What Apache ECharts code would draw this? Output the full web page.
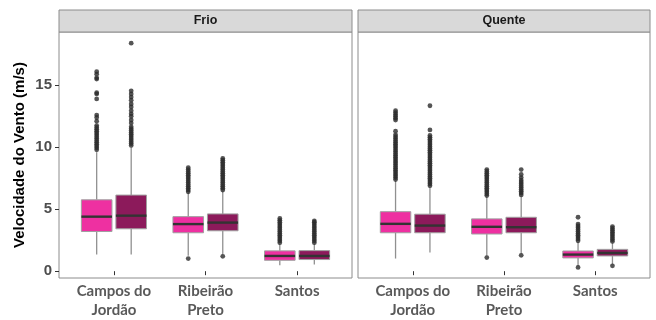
<!DOCTYPE html>
<html>
<head>
<meta charset="utf-8">
<script src="https://cdn.jsdelivr.net/npm/echarts@6/dist/echarts.min.js"></script>
<style>
  html, body { margin: 0; padding: 0; background: #fff; }
  #chart { width: 656px; height: 320px; }
</style>
</head>
<body>
<div id="chart"></div>
<script>
// Cities on the x axis, seasons as facets
const cities = ['Campos do\nJordão', 'Ribeirão\nPreto', 'Santos'];
const seasons = ['Frio', 'Quente'];
const yTicks = [0, 5, 10, 15];

// Box statistics per city: [lower whisker, Q1, median, Q3, upper whisker]
const frioBoxA = [[1.34, 3.2, 4.4, 5.76, 9.6], [1.25, 3.1, 3.8, 4.4, 6.3], [0.48, 0.88, 1.23, 1.64, 2.2]];
const frioBoxB = [[1.34, 3.42, 4.48, 6.14, 10.0], [1.35, 3.26, 3.92, 4.62, 6.45], [0.54, 0.94, 1.23, 1.66, 2.2]];
const quenteBoxA = [[1.02, 3.1, 3.82, 4.8, 7.3], [1.25, 3.0, 3.58, 4.22, 6.0], [0.4, 1.07, 1.34, 1.63, 2.35]];
const quenteBoxB = [[1.5, 3.1, 3.68, 4.6, 6.8], [1.4, 3.1, 3.55, 4.35, 6.05], [0.55, 1.23, 1.47, 1.76, 2.3]];

// Outlying observations per city
const frioOutA = [
  [9.8, 9.95, 10.1, 10.25, 10.4, 10.55, 10.7, 10.85, 11.0, 11.15, 11.3, 11.45, 11.6, 11.75, 12.1, 12.4, 12.6, 13.9, 14.3, 14.4, 15.5, 15.6, 15.9, 16.1],
  [1.02, 6.4, 6.55, 6.7, 6.85, 7.0, 7.15, 7.3, 7.45, 7.6, 7.75, 7.9, 8.05, 8.2, 8.35],
  [2.3, 2.45, 2.6, 2.75, 2.9, 3.05, 3.2, 3.35, 3.5, 3.65, 3.8, 3.95, 4.1, 4.25]
];
const frioOutB = [
  [10.15, 10.3, 10.45, 10.6, 10.75, 10.9, 11.05, 11.2, 11.35, 11.5, 11.65, 11.95, 12.2, 12.5, 12.7, 12.95, 13.25, 13.5, 13.8, 14.05, 14.3, 14.55, 18.4],
  [1.2, 6.55, 6.7, 6.85, 7.0, 7.15, 7.3, 7.45, 7.6, 7.75, 7.9, 8.05, 8.2, 8.35, 8.5, 8.65, 8.8, 8.95, 9.1],
  [2.3, 2.45, 2.6, 2.75, 2.9, 3.05, 3.2, 3.35, 3.5, 3.65, 3.8, 3.95, 4.05]
];
const quenteOutA = [
  [7.4, 7.55, 7.7, 7.85, 8.0, 8.15, 8.3, 8.45, 8.6, 8.75, 8.9, 9.05, 9.2, 9.35, 9.5, 9.65, 9.8, 9.95, 10.1, 10.25, 10.4, 10.55, 10.7, 10.85, 11.0, 11.3, 12.2, 12.35, 12.5, 12.65, 12.8, 12.95],
  [1.1, 6.1, 6.25, 6.4, 6.55, 6.7, 6.85, 7.0, 7.15, 7.3, 7.45, 7.6, 7.75, 7.9, 8.05, 8.2],
  [0.3, 2.45, 2.6, 2.75, 2.9, 3.05, 3.2, 3.35, 3.5, 3.65, 3.8, 4.35]
];
const quenteOutB = [
  [6.9, 7.05, 7.2, 7.35, 7.5, 7.65, 7.8, 7.95, 8.1, 8.25, 8.4, 8.55, 8.7, 8.85, 9.0, 9.15, 9.3, 9.45, 9.6, 9.75, 9.9, 10.05, 10.2, 10.35, 10.5, 10.65, 10.8, 10.95, 11.4, 13.35],
  [1.28, 6.15, 6.3, 6.45, 6.6, 6.75, 6.9, 7.05, 7.2, 7.35, 7.55, 7.8, 8.2],
  [0.43, 2.4, 2.55, 2.7, 2.85, 3.0, 3.15, 3.3, 3.45, 3.6]
];

const PINK = '#EE30A1';
const PLUM = '#8C1A5B';
const BOX_OFFSET = 0.1885;   // dodge offset from the city position (axis units)
const BOX_HALF = 0.167;      // half box width (axis units)
const GREY = '#8c8c8c';

function boxRenderer(offset, fill) {
  return function (params, api) {
    const x = api.value(0) + offset;
    const lo = api.coord([x, api.value(1)]);
    const q1 = api.coord([x, api.value(2)]);
    const md = api.coord([x, api.value(3)]);
    const q3 = api.coord([x, api.value(4)]);
    const hi = api.coord([x, api.value(5)]);
    const left = api.coord([x - BOX_HALF, api.value(3)])[0];
    const right = api.coord([x + BOX_HALF, api.value(3)])[0];
    const whisker = { stroke: '#909090', lineWidth: 1.3 };
    return {
      type: 'group',
      children: [
        { type: 'line', shape: { x1: lo[0], y1: lo[1], x2: q1[0], y2: q1[1] }, style: whisker },
        { type: 'line', shape: { x1: q3[0], y1: q3[1], x2: hi[0], y2: hi[1] }, style: whisker },
        { type: 'rect', shape: { x: left, y: q3[1], width: right - left, height: q1[1] - q3[1] },
          style: { fill: fill, stroke: '#a0a0a0', lineWidth: 1 } },
        { type: 'line', shape: { x1: left, y1: md[1], x2: right, y2: md[1] },
          style: { stroke: '#333333', lineWidth: 2.4 } }
      ]
    };
  };
}

function boxSeries(idx, boxes, offset, fill) {
  return {
    type: 'custom',
    xAxisIndex: idx, yAxisIndex: idx,
    renderItem: boxRenderer(offset, fill),
    encode: { x: 0, y: [1, 2, 3, 4, 5] },
    data: boxes.map((b, i) => [i + 1].concat(b)),
    silent: true, z: 2
  };
}

function outlierSeries(idx, outs, offset) {
  const pts = [];
  outs.forEach((arr, i) => arr.forEach(v => pts.push([i + 1 + offset, v])));
  return {
    type: 'scatter',
    xAxisIndex: idx, yAxisIndex: idx,
    data: pts,
    symbol: 'circle', symbolSize: 4.8,
    itemStyle: { color: '#2b2b2b' },
    silent: true, z: 3
  };
}

const grids = [
  { left: 59, top: 32, width: 293, height: 247 },
  { left: 358, top: 32, width: 292, height: 247 }
];

const chart = echarts.init(document.getElementById('chart'), null, { renderer: 'canvas' });

const xAxes = grids.map((g, i) => ({
  type: 'value', gridIndex: i, min: 0.4, max: 3.6,
  splitLine: { show: false },
  axisLine: { show: false },
  axisTick: { show: true, customValues: [1, 2, 3], length: 4, lineStyle: { color: '#333' } },
  axisLabel: {
    customValues: [1, 2, 3],
    formatter: v => cities[Math.round(v) - 1],
    color: '#595959', fontFamily: 'Lato', fontWeight: 'bold', fontSize: 15,
    lineHeight: 19, margin: 4
  }
}));

const yAxes = grids.map((g, i) => ({
  type: 'value', gridIndex: i, min: -0.55, max: 19.3,
  splitLine: { show: false },
  axisLine: { show: false },
  axisTick: { show: i === 0, customValues: yTicks, length: 4, lineStyle: { color: '#333' } },
  axisLabel: {
    show: i === 0, customValues: yTicks,
    color: '#4d4d4d', fontFamily: 'Liberation Sans', fontWeight: 'bold', fontSize: 15, margin: 7
  },
  name: i === 0 ? 'Velocidade do Vento (m/s)' : '',
  nameLocation: 'middle', nameGap: 32,
  nameTextStyle: { color: '#000', fontFamily: 'Liberation Sans', fontWeight: 'bold', fontSize: 15 }
}));

const strips = [];
grids.forEach((g, i) => {
  strips.push({
    type: 'rect', shape: { x: g.left, y: 10, width: g.width, height: 22 },
    style: { fill: '#d9d9d9', stroke: GREY, lineWidth: 1 }, silent: true
  });
  strips.push({
    type: 'text', x: g.left + g.width / 2, y: 21,
    style: { text: seasons[i], fill: '#1a1a1a', font: 'bold 12.5px "Liberation Sans"', align: 'center', verticalAlign: 'middle' },
    silent: true
  });
});

chart.setOption({
  animation: false,
  backgroundColor: '#fff',
  grid: grids.map(g => Object.assign({ show: true, borderColor: GREY, borderWidth: 1, backgroundColor: '#fff' }, g)),
  xAxis: xAxes,
  yAxis: yAxes,
  graphic: strips,
  series: [
    boxSeries(0, frioBoxA, -BOX_OFFSET, PINK),
    boxSeries(0, frioBoxB, BOX_OFFSET, PLUM),
    boxSeries(1, quenteBoxA, -BOX_OFFSET, PINK),
    boxSeries(1, quenteBoxB, BOX_OFFSET, PLUM),
    outlierSeries(0, frioOutA, -BOX_OFFSET),
    outlierSeries(0, frioOutB, BOX_OFFSET),
    outlierSeries(1, quenteOutA, -BOX_OFFSET),
    outlierSeries(1, quenteOutB, BOX_OFFSET)
  ]
});
</script>
</body>
</html>
